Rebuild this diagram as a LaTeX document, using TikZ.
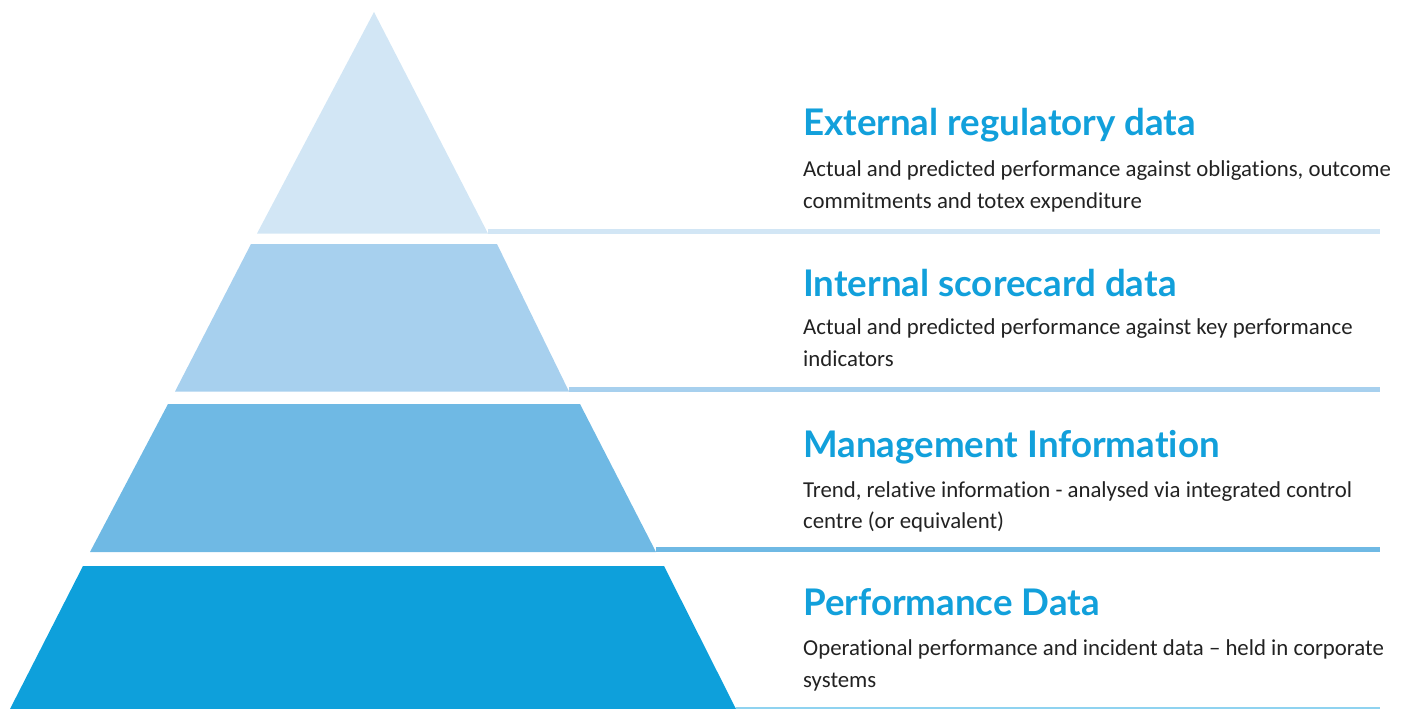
\documentclass[tikz,border=0pt]{standalone}
\usepackage{fontspec}
\setmainfont{Carlito}[Ligatures=NoCommon]
\newfontfamily\headfont{Lato}[Ligatures=NoCommon]

\definecolor{tierone}{HTML}{D2E6F5}
\definecolor{tiertwo}{HTML}{A7D0EE}
\definecolor{tierthree}{HTML}{6FB9E4}
\definecolor{tierfour}{HTML}{0EA0DB}
\definecolor{floorline}{HTML}{8FD3F0}
\definecolor{headblue}{HTML}{12A0DB}
\definecolor{bodygrey}{HTML}{222222}

\tikzset{
  heading/.style={anchor=base west, inner sep=0pt, text=headblue,
    font=\headfont\bfseries\fontsize{36.7}{42}\selectfont},
  blurb/.style={anchor=base west, inner sep=0pt, text=bodygrey,
    font=\fontsize{22.8}{32}\selectfont},
}

\begin{document}
\begin{tikzpicture}[x=1pt,y=-1pt]
  \useasboundingbox (0,0) rectangle (1408,709);

  % Pyramid tiers, top to bottom
  \fill[tierone]   (374,12)  -- (488,233.5) -- (257,233.5) -- cycle;
  \fill[tiertwo]   (251,244) -- (497,244) -- (569,391.5) -- (175,391.5) -- cycle;
  \fill[tierthree] (168,404) -- (580,404) -- (656,552) -- (90,552) -- cycle;
  \fill[tierfour]  (83,566)  -- (664,566) -- (736,709) -- (10,709) -- cycle;

  % Rules running out from each tier
  \fill[tierone]   (488,229) rectangle (1380,233.5);
  \fill[tiertwo]   (569,386.5) rectangle (1380,391.5);
  \fill[tierthree] (656,547) rectangle (1380,552);
  \fill[floorline] (736,707) rectangle (1380,709);

  % Labels
  \node[heading] (ext)  at (803,135) {External regulatory data};
  \node[blurb]   (extA) at (803,176) {Actual and predicted performance against obligations, outcome};
  \node[blurb]   (extB) at (803,208) {commitments and totex expenditure};

  \node[heading] (int)  at (803,296) {Internal scorecard data};
  \node[blurb]   (intA) at (803,334) {Actual and predicted performance against key performance};
  \node[blurb]   (intB) at (803,366) {indicators};

  \node[heading] (mgt)  at (803,457) {Management Information};
  \node[blurb]   (mgtA) at (803,497) {Trend, relative information - analysed via integrated control};
  \node[blurb]   (mgtB) at (803,528) {centre (or equivalent)};

  \node[heading] (perf)  at (803,615) {Performance Data};
  \node[blurb]   (perfA) at (803,655) {Operational performance and incident data -- held in corporate};
  \node[blurb]   (perfB) at (803,687) {systems};
\end{tikzpicture}
\end{document}
